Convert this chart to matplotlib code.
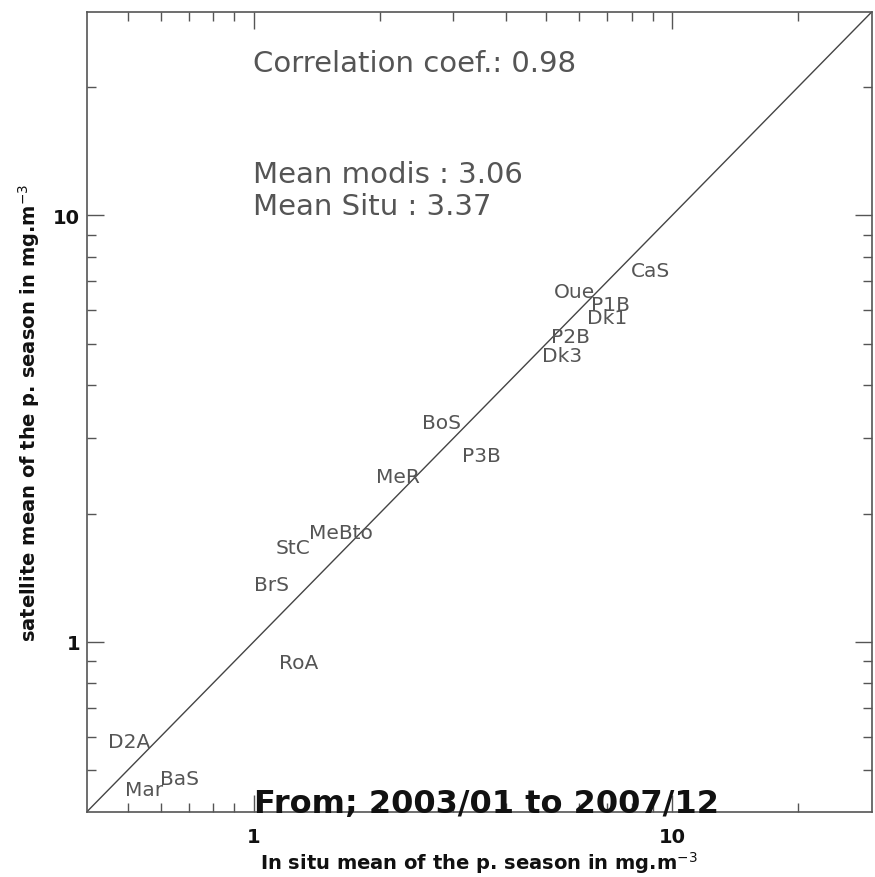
import matplotlib
matplotlib.use("Agg")
import matplotlib.pyplot as plt
from matplotlib.ticker import FixedLocator, NullFormatter, FixedFormatter

# Seasonal chlorophyll means per station: in situ vs satellite (mg.m-3)
stations = ["CaS", "Oue", "P1B", "Dk1", "P2B", "Dk3", "BoS", "P3B", "MeR",
            "MeBto", "StC", "BrS", "RoA", "D2A", "Mar", "BaS"]
in_situ = [7.97, 5.23, 6.40, 6.27, 5.13, 4.90, 2.53, 3.15, 1.96,
           1.36, 1.13, 1.00, 1.15, 0.448, 0.492, 0.597]
satellite = [7.20, 6.42, 6.01, 5.58, 5.04, 4.55, 3.18, 2.65, 2.37,
             1.75, 1.62, 1.32, 0.871, 0.567, 0.438, 0.464]

corr_coef = 0.98
mean_modis = 3.06
mean_situ = 3.37
period = ("2003/01", "2007/12")

axis_range = (0.4, 30.0)
major_ticks = [1, 10]
minor_ticks = [0.5, 0.6, 0.7, 0.8, 0.9, 2, 3, 4, 5, 6, 7, 8, 9, 20]

grey = "#555555"

fig = plt.figure(figsize=(8.75, 8.78), dpi=100)
ax = fig.add_axes([0.0994, 0.0744, 0.897, 0.911])
ax.set_xscale("log")
ax.set_yscale("log")
ax.set_xlim(*axis_range)
ax.set_ylim(*axis_range)

# 1:1 line across the whole frame
ax.plot(axis_range, axis_range, color="#444444", lw=1.0)

for name, xv, yv in zip(stations, in_situ, satellite):
    ax.text(xv, yv, name, fontsize=14.5, color=grey, ha="left", va="baseline")

ax.text(0.2115, 0.926, f"Correlation coef.: {corr_coef:.2f}", transform=ax.transAxes,
        fontsize=21, color=grey, ha="left", va="baseline")
ax.text(0.2115, 0.787, f"Mean modis : {mean_modis:.2f}", transform=ax.transAxes,
        fontsize=21, color=grey, ha="left", va="baseline")
ax.text(0.2115, 0.747, f"Mean Situ : {mean_situ:.2f}", transform=ax.transAxes,
        fontsize=21, color=grey, ha="left", va="baseline")
ax.text(1.0, axis_range[0], f"From; {period[0]} to {period[1]}", fontsize=23,
        fontweight="bold", color="#111111", ha="left", va="baseline")

for axis in (ax.xaxis, ax.yaxis):
    axis.set_major_locator(FixedLocator(major_ticks))
    axis.set_major_formatter(FixedFormatter([str(t) for t in major_ticks]))
    axis.set_minor_locator(FixedLocator(minor_ticks))
    axis.set_minor_formatter(NullFormatter())

ax.tick_params(which="both", direction="in", top=True, right=True, color=grey, width=1.0)
ax.tick_params(which="major", length=12)
ax.tick_params(which="minor", length=6.5)
ax.tick_params(axis="x", which="major", pad=11, labelsize=14)
ax.tick_params(axis="y", which="major", pad=5, labelsize=14)
for lab in ax.get_xticklabels() + ax.get_yticklabels():
    lab.set_fontweight("bold")
    lab.set_color("#111111")

for sp in ax.spines.values():
    sp.set_color(grey)
    sp.set_linewidth(1.2)

ax.set_xlabel("In situ mean of the p. season in mg.m$^{-3}$", fontsize=14,
              fontweight="bold", color="#111111", labelpad=2)
ax.set_ylabel("satellite mean of the p. season in mg.m$^{-3}$", fontsize=14,
              fontweight="bold", color="#111111", labelpad=8)

fig.savefig("out.png", dpi=100)
